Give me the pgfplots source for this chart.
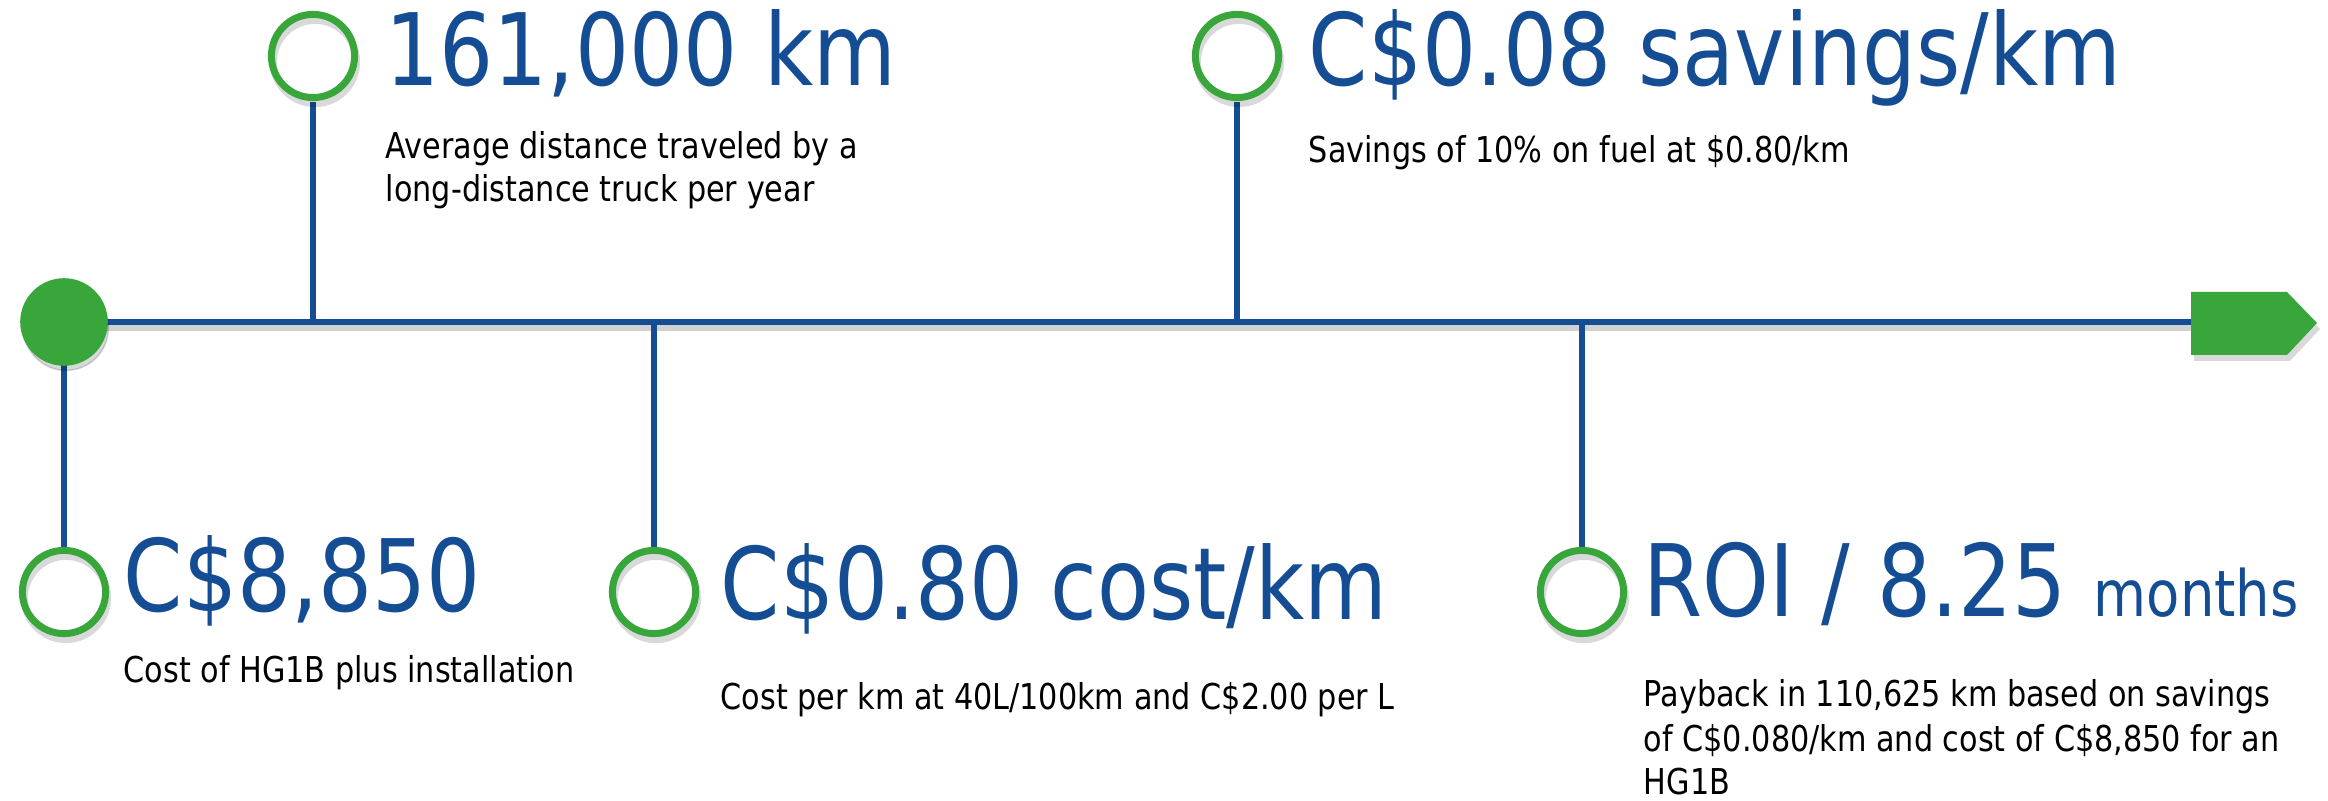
\documentclass[border=0pt]{standalone}
\usepackage{fontspec}
\setmainfont{DejaVu Sans}[FakeStretch=0.85]
\usepackage{pgfplots}
\pgfplotsset{compat=1.18}
\definecolor{tlblue}{RGB}{20,77,148}
\definecolor{tlgreen}{RGB}{56,166,58}
\tikzset{
  big/.style={anchor=base west, inner sep=0pt, text=tlblue, font=\fontsize{25}{30}\selectfont},
  small/.style={anchor=base west, inner sep=0pt, text=black, font=\fontsize{8.9}{11}\selectfont},
}
\begin{document}
\begin{tikzpicture}
\begin{axis}[
  scale only axis, width=582pt, height=200.25pt,
  xmin=0, xmax=2328, ymin=0, ymax=801, y dir=reverse,
  hide axis, clip=false,
]
\path (axis cs:0,0) rectangle (axis cs:2328,801);

% shadows
\addplot[black, opacity=0.18, line width=1.5pt] coordinates {(64,328) (2191,328)};
\addplot[black, opacity=0.15, fill, draw=none] coordinates {(2194,298) (2290,298) (2320,329) (2290,361) (2194,361)};
\addplot[only marks, mark=*, mark size=10.6pt, black, opacity=0.15, mark options={draw=none}]
  coordinates {(66,328)};
\addplot[only marks, mark=o, mark size=10.4pt, black, opacity=0.15, mark options={line width=1.75pt}]
  coordinates {(315,62) (1239,62) (66,598) (656,598) (1584,598)};

% main line and stems
\addplot[tlblue, line width=1.55pt] coordinates {(64,322) (2191,322)};
\addplot[tlblue, line width=1.45pt] coordinates {(313,102) (313,322)};
\addplot[tlblue, line width=1.45pt] coordinates {(1237,102) (1237,322)};
\addplot[tlblue, line width=1.45pt] coordinates {(64,322) (64,548)};
\addplot[tlblue, line width=1.45pt] coordinates {(654,322) (654,548)};
\addplot[tlblue, line width=1.45pt] coordinates {(1582,322) (1582,548)};

% start dot and end arrow
\addplot[only marks, mark=*, mark size=10.75pt, tlgreen, mark options={draw=none}]
  coordinates {(64,322)};
\addplot[fill=tlgreen, draw=none] coordinates {(2191,292) (2287,292) (2317,323) (2287,355) (2191,355)};

% milestone rings
\addplot[only marks, mark=o, mark size=10.4pt, tlgreen, mark options={line width=1.75pt, fill=white}]
  coordinates {(313,56) (1237,56) (64,592) (654,592) (1582,592)};

% texts above the line
\node[big] at (axis cs:385,86) {161,000 km};
\node[small] at (axis cs:385,159) {Average distance traveled by a};
\node[small] at (axis cs:385,202) {long-distance truck per year};

\node[big] at (axis cs:1308,86) {C\$0.08 savings/km};
\node[small] at (axis cs:1308,163) {Savings of 10\% on fuel at \$0.80/km};

% texts below the line
\node[big] at (axis cs:123,612) {C\$8,850};
\node[small] at (axis cs:123,683) {Cost of HG1B plus installation};

\node[big] at (axis cs:720,620) {C\$0.80 cost/km};
\node[small] at (axis cs:720,710) {Cost per km at 40L/100km and C\$2.00 per L};

\node[big] at (axis cs:1643,617) {ROI / 8.25 {\fontsize{16}{19}\selectfont months}};
\node[small] at (axis cs:1643,707) {Payback in 110,625 km based on savings};
\node[small] at (axis cs:1643,752) {of C\$0.080/km and cost of C\$8,850 for an};
\node[small] at (axis cs:1643,795) {HG1B};
\end{axis}
\end{tikzpicture}
\end{document}
